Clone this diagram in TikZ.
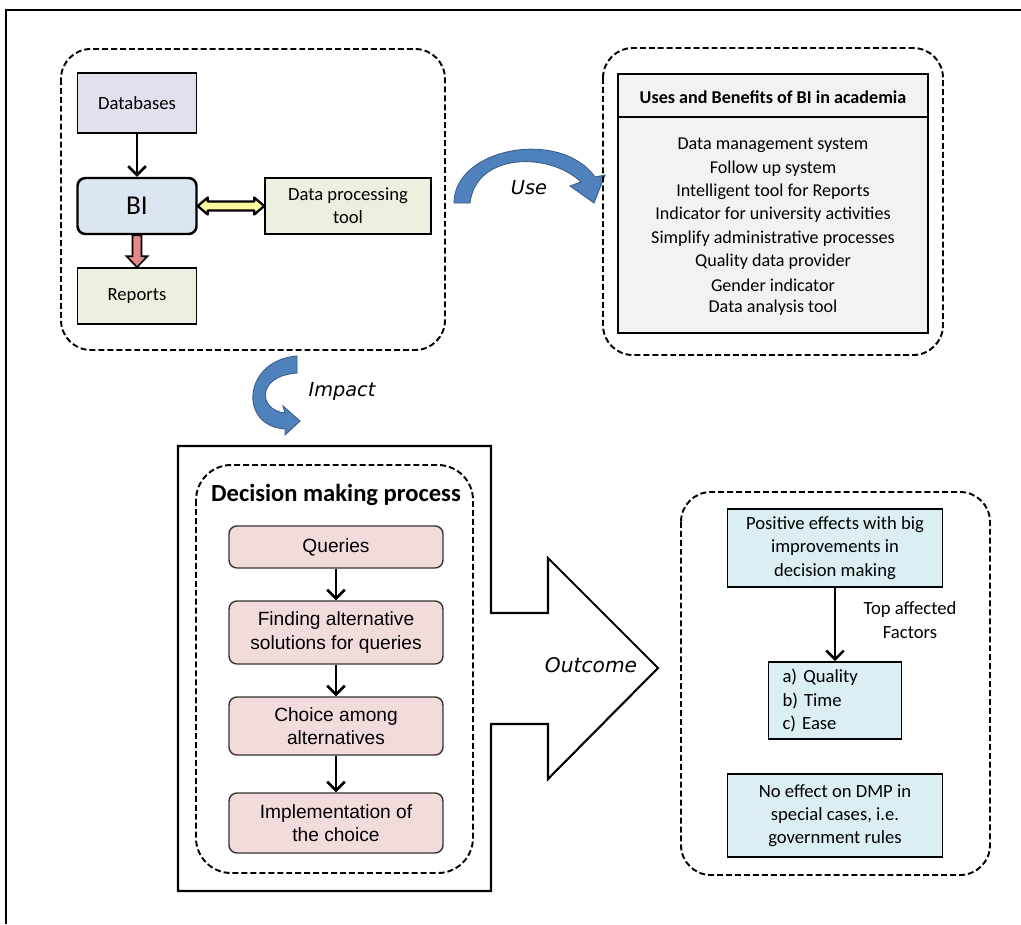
\documentclass[tikz,border=0pt]{standalone}
\usepackage{fontspec}
\setmainfont{Carlito}
\newfontfamily\arialfont{Liberation Sans}
\newfontfamily\verdanafont{DejaVu Sans}
\usetikzlibrary{arrows.meta,calc}
\definecolor{dbfill}{HTML}{E4DFEC}
\definecolor{bifill}{HTML}{DCE6F2}
\definecolor{greenfill}{HTML}{EBF1DE}
\definecolor{grayfill}{HTML}{F2F2F2}
\definecolor{pinkfill}{HTML}{F2DCDB}
\definecolor{cyanfill}{HTML}{DAEEF3}
\definecolor{curvefill}{HTML}{4F81BD}
\definecolor{curveedge}{HTML}{385D8A}
\definecolor{yellowarrow}{HTML}{FAFA9E}
\definecolor{redarrow}{HTML}{E3898A}
\tikzset{
  dashbox/.style={draw,line width=1.1pt,dash pattern=on 3.4pt off 1.7pt,rounded corners=17pt},
  box/.style={draw,line width=0.9pt,inner sep=2pt,align=center,font=\fontsize{10.6}{13.2}\selectfont},
  pinkbox/.style={draw=black!80,line width=0.8pt,fill=pinkfill,rounded corners=4.5pt,align=center,
    minimum width=4.28cm,font=\arialfont\fontsize{10.9}{13.2}\selectfont},
  flow/.style={-{Straight Barb[length=5pt,width=10pt,line width=1.5pt]},line width=1.5pt},
  curve/.style={fill=curvefill,draw=curveedge,line width=0.5pt},
  slanted/.style={font=\verdanafont\itshape\fontsize{11}{13}\selectfont}
}
\begin{document}
\begin{tikzpicture}[x=0.02cm,y=-0.02cm]
\useasboundingbox (0,0) rectangle (1021,924);
\draw[line width=1.1pt] (6,924) -- (6,10) -- (1021,10);

% BI and its tools
\draw[dashbox] (61,49) rectangle (445,350);
\node[box,fill=dbfill,minimum width=2.38cm,minimum height=1.2cm] (db) at (137,103) {Databases};
\node[box,fill=bifill,line width=1.4pt,rounded corners=4.5pt,minimum width=2.38cm,minimum height=1.12cm,
  font=\fontsize{15.5}{18}\selectfont] (bi) at (137,206) {BI};
\node[box,fill=greenfill,minimum width=3.32cm,minimum height=1.12cm] (dpt) at (348,206) {Data processing\\tool};
\node[box,fill=greenfill,minimum width=2.38cm,minimum height=1.12cm] (rep) at (137,296) {Reports};
\draw[flow] (db) -- (bi);
\filldraw[fill=yellowarrow,line width=1.3pt,line join=round] (bi.east) -- ++(10,-8.5) -- ++(0,4)
  -- ($(dpt.west)+(-10,-4.5)$) -- ++(0,-4) -- (dpt.west) -- ++(-10,8.5) -- ++(0,-4)
  -- ($(bi.east)+(10,4.5)$) -- ++(0,4) -- cycle;
\filldraw[fill=redarrow,line width=0.9pt] ($(bi.south)+(-4.5,0)$) -- ($(rep.north)+(-4.5,-11)$) -- ++(-6,0)
  -- (rep.north) -- ++(10.5,-11) -- ++(-6,0) -- ($(bi.south)+(4.5,0)$) -- cycle;

% curved arrows
\filldraw[curve] (454,203) .. controls (454,148) and (560,128) .. (595,177) -- (605,175) -- (594,203)
  -- (570,186) -- (581,182) .. controls (550,152) and (476,152) .. (470,203) -- cycle;
\node[slanted] (uselabel) at (529,188) {Use};
\filldraw[curve] (297,356) .. controls (243,360) and (238,426) .. (285,429) -- (285,435) -- (300,421)
  -- (283,406) -- (285,413) .. controls (258,410) and (256,376) .. (297,373) -- cycle;
\node[slanted] (impactlabel) at (342,391) {Impact};

% uses and benefits
\draw[dashbox] (603,48) rectangle (943,355);
\node[draw,line width=1.4pt,fill=grayfill,minimum width=6.2cm,minimum height=5.18cm] (uses) at (773,203.5) {};
\draw[line width=0.9pt] ($(uses.north west)+(0,44)$) -- ($(uses.north east)+(0,44)$);
\node[font=\bfseries\fontsize{10.3}{13.2}\selectfont] (usehead) at (773,97) {Uses and Benefits of BI in academia};
\foreach \t [count=\i] in {Data management system,Follow up system,Intelligent tool for Reports,
  Indicator for university activities,Simplify administrative processes,Quality data provider,
  Gender indicator,Data analysis tool}
  \node[font=\fontsize{10.3}{13.2}\selectfont] (benefit\i) at (773,{145+23.3*(\i-1)}) {\t};

% decision making process
\draw[line width=1.2pt] (178,446) -- (491,446) -- (491,613) -- (548,613) -- (548,558) -- (658,668)
  -- (548,779) -- (548,724) -- (491,724) -- (491,891) -- (178,891) -- cycle;
\draw[dashbox,rounded corners=20pt] (196,465) rectangle (473,873);
\node[font=\bfseries\fontsize{14}{16}\selectfont] (dmp) at (336,495) {Decision making process};
\node[pinkbox,minimum height=0.84cm] (q1) at (336,547) {Queries};
\node[pinkbox,minimum height=1.26cm] (q2) at (336,632.5) {Finding alternative\\solutions for queries};
\node[pinkbox,minimum height=1.16cm] (q3) at (336,726) {Choice among\\alternatives};
\node[pinkbox,minimum height=1.2cm] (q4) at (336,823) {Implementation of\\the choice};
\foreach \a/\b in {q1/q2,q2/q3,q3/q4} \draw[flow] (\a) -- (\b);
\node[slanted,font=\verdanafont\itshape\fontsize{11.5}{13}\selectfont] (outcome) at (591,665) {Outcome};

% outcome
\draw[dashbox] (681,492) rectangle (990,875);
\node[box,fill=cyanfill,minimum width=4.3cm,minimum height=1.56cm] (pos) at (835,548)
  {Positive effects with big\\improvements in\\decision making};
\node[box,fill=cyanfill,minimum width=2.66cm,minimum height=1.54cm,text width=2.1cm,align=left] (abc) at (835,700.5)
  {a) Quality\\b) Time\\c) Ease};
\node[box,fill=cyanfill,minimum width=4.3cm,minimum height=1.66cm] (none) at (835,815.5)
  {No effect on DMP in\\special cases, i.e.\\government rules};
\draw[flow] (pos) -- (abc);
\node[box,draw=none] (factors) at (910,620) {Top affected\\Factors};
\end{tikzpicture}
\end{document}
